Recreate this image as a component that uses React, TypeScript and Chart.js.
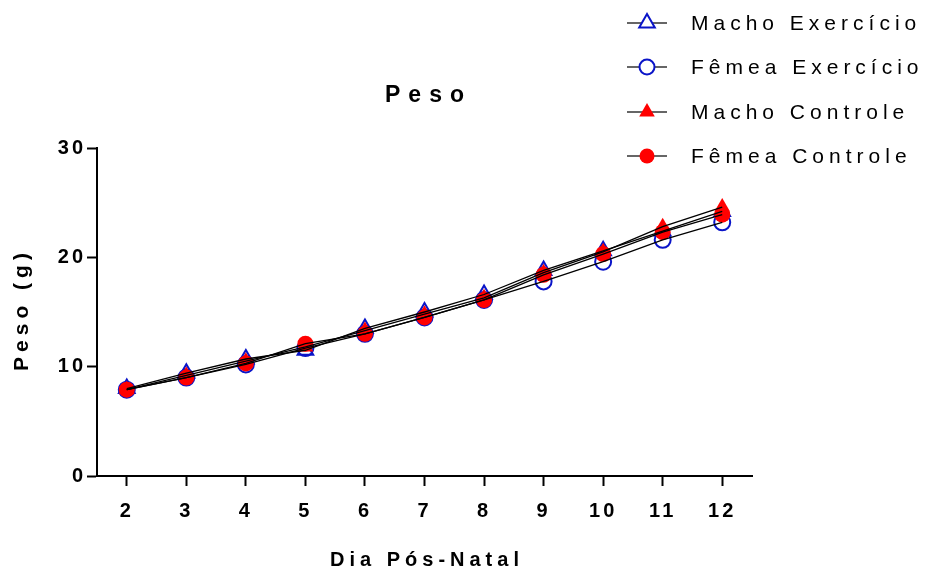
import React, { useEffect, useRef } from "react";
import { Chart, registerables } from "chart.js";

Chart.register(...registerables);

const days = [2, 3, 4, 5, 6, 7, 8, 9, 10, 11, 12];
const yTicks = [0, 10, 20, 30];
const machoExercicio = [8.0, 9.4, 10.7, 11.5, 13.5, 15.0, 16.6, 18.8, 20.6, 22.4, 24.2];
const femeaExercicio = [7.9, 9.0, 10.2, 11.7, 13.0, 14.5, 16.1, 17.8, 19.6, 21.6, 23.2];
const machoControle = [7.9, 9.2, 10.5, 11.8, 13.3, 14.8, 16.3, 18.6, 20.5, 22.8, 24.6];
const femeaControle = [7.9, 9.0, 10.3, 12.1, 13.0, 14.5, 16.1, 18.4, 20.3, 22.3, 23.9];

const seriesNames = ["Macho Exercício", "Fêmea Exercício", "Macho Controle", "Fêmea Controle"];
const chartTitle = "Peso";
const xTitle = "Dia Pós-Natal";
const yTitle = "Peso (g)";

const BLUE = "#0a14c8";
const RED = "#ff0000";
const FONT = "'Liberation Sans', Arial, sans-serif";

const toXY = (vals: number[]) => vals.map((v, i) => ({ x: days[i], y: v }));

function drawMarker(ctx: CanvasRenderingContext2D, kind: number, x: number, y: number) {
  ctx.save();
  ctx.lineWidth = 2;
  if (kind === 0 || kind === 2) {
    const r = 9;
    ctx.beginPath();
    for (let k = 0; k < 3; k++) {
      const a = (k * 2 * Math.PI) / 3;
      const px = x + Math.sin(a) * r;
      const py = y - Math.cos(a) * r;
      if (k === 0) ctx.moveTo(px, py);
      else ctx.lineTo(px, py);
    }
    ctx.closePath();
  } else {
    ctx.beginPath();
    ctx.arc(x, y, 7.5, 0, Math.PI * 2);
  }
  if (kind < 2) {
    ctx.fillStyle = "#ffffff";
    ctx.fill();
    ctx.strokeStyle = BLUE;
    ctx.stroke();
  } else {
    ctx.fillStyle = RED;
    ctx.fill();
  }
  ctx.restore();
}

const textPlugin = {
  id: "customText",
  beforeDraw(chart: any) {
    chart.ctx.letterSpacing = "3px";
  },
  afterDraw(chart: any) {
    const ctx: CanvasRenderingContext2D = chart.ctx;
    const area = chart.chartArea;
    const cx = (area.left + area.right) / 2;
    ctx.save();
    ctx.fillStyle = "#000000";
    ctx.textAlign = "center";
    ctx.textBaseline = "middle";
    // title
    (ctx as any).letterSpacing = "8px";
    ctx.font = `bold 23px ${FONT}`;
    ctx.fillText(chartTitle, cx + 4, 96);
    // x title
    (ctx as any).letterSpacing = "5px";
    ctx.font = `bold 20px ${FONT}`;
    ctx.fillText(xTitle, cx + 2.5, 560);
    // y title
    ctx.save();
    ctx.translate(22, (area.top + area.bottom) / 2);
    ctx.rotate(-Math.PI / 2);
    ctx.font = `bold 21px ${FONT}`;
    ctx.fillText(yTitle, 2.5, 0);
    ctx.restore();
    // legend
    (ctx as any).letterSpacing = "5px";
    ctx.font = `21px ${FONT}`;
    ctx.textAlign = "left";
    const rows = [23, 67, 112, 156];
    seriesNames.forEach((name, i) => {
      const y = rows[i];
      ctx.strokeStyle = "#333333";
      ctx.lineWidth = 1.5;
      ctx.beginPath();
      ctx.moveTo(627, y);
      ctx.lineTo(667, y);
      ctx.stroke();
      drawMarker(ctx, i, 647, y);
      ctx.fillStyle = "#000000";
      ctx.fillText(name, 691, y + 1);
    });
    ctx.restore();
  },
};

export default function App() {
  const ref = useRef<HTMLCanvasElement | null>(null);
  useEffect(() => {
    document.body.style.margin = "0";
    const canvas = ref.current;
    if (!canvas) return;
    const pointDs = (label: string, vals: number[], style: string, filled: boolean, order: number) => ({
      label,
      data: toXY(vals),
      showLine: false,
      pointStyle: style,
      pointRadius: style === "triangle" ? 9 : 8,
      pointBackgroundColor: filled ? RED : "rgba(255,255,255,0)",
      pointBorderColor: filled ? RED : BLUE,
      pointBorderWidth: filled ? 0 : 2,
      order,
    });
    const lineDs = (label: string, vals: number[]) => ({
      label: label + " linha",
      data: toXY(vals),
      showLine: true,
      borderColor: "#000000",
      borderWidth: 1.3,
      pointRadius: 0,
      tension: 0,
      order: 0,
    });
    const chart = new Chart(canvas, {
      type: "scatter",
      data: {
        datasets: [
          lineDs(seriesNames[0], machoExercicio),
          lineDs(seriesNames[1], femeaExercicio),
          lineDs(seriesNames[2], machoControle),
          lineDs(seriesNames[3], femeaControle),
          pointDs(seriesNames[3], femeaControle, "circle", true, 1),
          pointDs(seriesNames[2], machoControle, "triangle", true, 2),
          pointDs(seriesNames[1], femeaExercicio, "circle", false, 3),
          pointDs(seriesNames[0], machoExercicio, "triangle", false, 4),
        ] as any,
      },
      options: {
        animation: false,
        responsive: false,
        layout: { padding: { top: 148, right: 176, left: 0, bottom: 0 } },
        plugins: { legend: { display: false }, tooltip: { enabled: false }, title: { display: false } },
        scales: {
          x: {
            type: "linear",
            min: 1.5,
            max: 12.5,
            afterBuildTicks: (scale: any) => {
              scale.ticks = days.map((d) => ({ value: d }));
            },
            afterFit: (scale: any) => {
              scale.height = 95;
            },
            grid: { drawOnChartArea: false, drawTicks: true, tickLength: 10, tickWidth: 2, color: "#000000" },
            border: { display: true, color: "#000000", width: 2 },
            ticks: {
              color: "#000000",
              padding: 13,
              font: { family: FONT, size: 20, weight: "bold" },
              callback: (v: any) => String(v),
            },
          },
          y: {
            type: "linear",
            min: 0,
            max: 30,
            afterBuildTicks: (scale: any) => {
              scale.ticks = yTicks.map((d) => ({ value: d }));
            },
            afterFit: (scale: any) => {
              scale.width = 97;
            },
            grid: { drawOnChartArea: false, drawTicks: true, tickLength: 10, tickWidth: 2, color: "#000000" },
            border: { display: true, color: "#000000", width: 2 },
            ticks: {
              color: "#000000",
              padding: 1,
              font: { family: FONT, size: 20, weight: "bold" },
              callback: (v: any) => String(v),
            },
          },
        },
      } as any,
      plugins: [textPlugin],
    });
    return () => chart.destroy();
  }, []);
  return (
    <div style={{ position: "fixed", left: 0, top: 0, width: 928, height: 571, background: "#fff" }}>
      <canvas ref={ref} width={928} height={571} style={{ width: 928, height: 571, display: "block" }} />
    </div>
  );
}
